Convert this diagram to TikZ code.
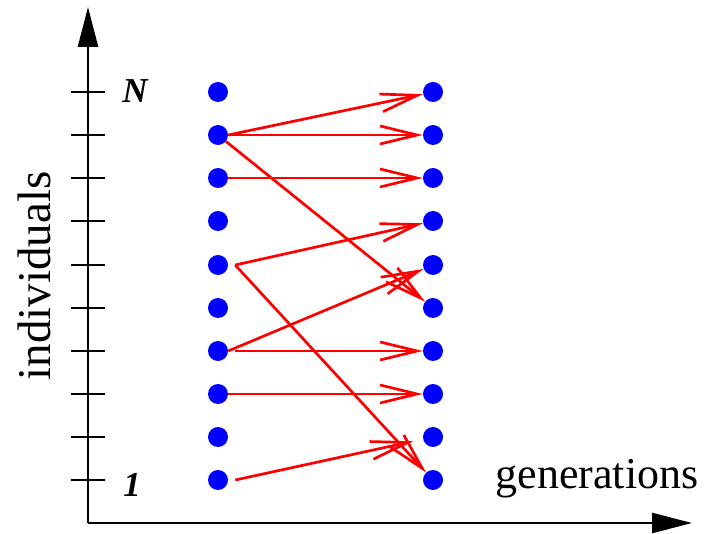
\documentclass[tikz,border=0pt]{standalone}
\usepackage{fontspec}
\setmainfont{Liberation Serif}
\usetikzlibrary{arrows.meta}

\begin{document}
\begin{tikzpicture}[x=1pt, y=-1pt,
    dot/.style={circle, fill=blue, inner sep=0pt, minimum size=20pt},
    axis/.style={line width=2.6pt, -{Triangle[length=40pt, width=20pt]}},
    tickmark/.style={line width=2.6pt},
    link/.style={red, line width=2.7pt, -{Straight Barb[length=37pt, width=18pt]}},
    bignum/.style={font=\fontsize{35}{40}\selectfont\bfseries\itshape},
    axlabel/.style={font=\fontsize{44}{52}\selectfont}]
    \useasboundingbox (0,0) rectangle (704,534);
    % rows from bottom (1) to top (N); y in pixels downward
    \def\xl{218}
    \def\xr{433}

    % Axes
    \coordinate (O) at (88,523);
    \coordinate (ytop) at (88,7);
    \coordinate (xend) at (692,523);
    \draw[axis] (O) -- (ytop);
    \draw[axis] (O) -- (xend);

    % Ticks
    \draw[tickmark] (71,92) -- (105,92);
    \draw[tickmark] (71,135) -- (105,135);
    \draw[tickmark] (71,178) -- (105,178);
    \draw[tickmark] (71,221) -- (105,221);
    \draw[tickmark] (71,265) -- (105,265);
    \draw[tickmark] (71,308) -- (105,308);
    \draw[tickmark] (71,351) -- (105,351);
    \draw[tickmark] (71,394) -- (105,394);
    \draw[tickmark] (71,437) -- (105,437);
    \draw[tickmark] (71,480) -- (105,480);

    % Labels
    \node[bignum] (ntop) at (135,91) {N};
    \node[bignum] (nbot) at (132,485) {1};
    \node[axlabel, anchor=base west] (gen) at (492,488) {generations};
    \node[axlabel, rotate=90, anchor=base, font=\fontsize{47}{54}\selectfont] (ind) at (50,276) {individuals};

    % Individuals, generation t
    \node[dot] (l10) at (\xl,92) {};  \node[dot] (l9) at (\xl,135) {};
    \node[dot] (l8) at (\xl,178) {};  \node[dot] (l7) at (\xl,221) {};
    \node[dot] (l6) at (\xl,265) {};  \node[dot] (l5) at (\xl,308) {};
    \node[dot] (l4) at (\xl,351) {};  \node[dot] (l3) at (\xl,394) {};
    \node[dot] (l2) at (\xl,437) {};  \node[dot] (l1) at (\xl,480) {};

    % Individuals, generation t+1
    \node[dot] (r10) at (\xr,92) {};  \node[dot] (r9) at (\xr,135) {};
    \node[dot] (r8) at (\xr,178) {};  \node[dot] (r7) at (\xr,221) {};
    \node[dot] (r6) at (\xr,265) {};  \node[dot] (r5) at (\xr,308) {};
    \node[dot] (r4) at (\xr,351) {};  \node[dot] (r3) at (\xr,394) {};
    \node[dot] (r2) at (\xr,437) {};  \node[dot] (r1) at (\xr,480) {};

    % Offspring
    \draw[link] (l9.east) -- (r10);
    \draw[link] (l9) -- (r9);
    \draw[link] (l9) -- (r5);
    \draw[link] (l8) -- (r8);
    \draw[link] ([xshift=7pt]l6.east) -- (r7);
    \draw[link] ([xshift=7pt]l6.east) -- (r1);
    \draw[link] (l4.east) -- (r6);
    \draw[link] ([xshift=7pt]l4.east) -- (r4);
    \draw[link] (l3) -- (r3);
    \draw[link, shorten >=10pt] ([xshift=7pt]l1.east) -- (r2);
\end{tikzpicture}
\end{document}
